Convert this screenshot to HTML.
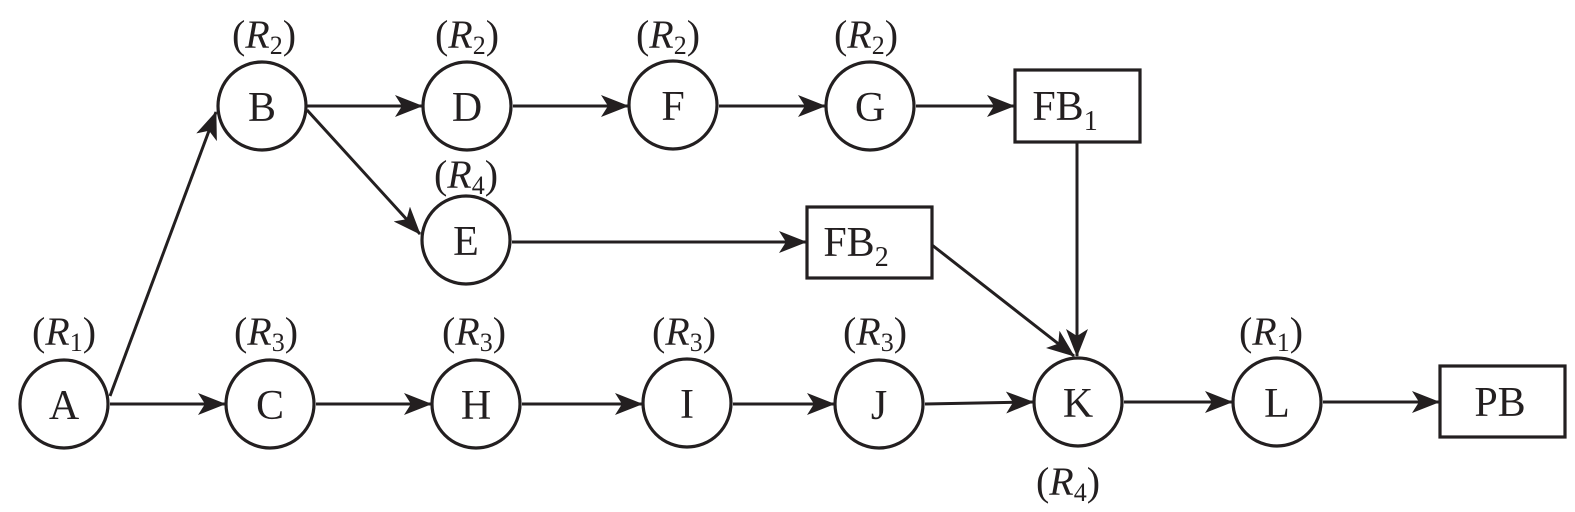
<!DOCTYPE html>
<html><head><meta charset="utf-8"><style>
html,body{margin:0;padding:0;background:#fff;}
svg{display:block;}
text{font-family:"Liberation Serif",serif;fill:#231f20;}
.n{font-size:42px;text-anchor:middle;dominant-baseline:central;}
.l{font-size:40px;text-anchor:middle;}
</style></head><body>
<svg width="1575" height="512" viewBox="0 0 1575 512" xmlns="http://www.w3.org/2000/svg">
<defs>
<marker id="ar" markerWidth="28" markerHeight="22" refX="27" refY="11" orient="auto" markerUnits="userSpaceOnUse">
<path d="M0,0 L28,11 L0,22 L7,11 Z" fill="#231f20"/>
</marker>
</defs>
<g stroke="#231f20" stroke-width="3.2" fill="none">
<circle cx="64" cy="404" r="44"/>
<circle cx="262" cy="106" r="44"/>
<circle cx="467" cy="106" r="44"/>
<circle cx="673" cy="105" r="44"/>
<circle cx="870" cy="106" r="44"/>
<circle cx="466" cy="240" r="44"/>
<circle cx="270" cy="404" r="44"/>
<circle cx="476" cy="404" r="44"/>
<circle cx="687" cy="403" r="44"/>
<circle cx="879" cy="404" r="44"/>
<circle cx="1078" cy="402" r="44"/>
<circle cx="1277" cy="402" r="44"/>
<rect x="1015" y="70" width="125" height="72"/>
<rect x="807" y="207" width="125" height="71"/>
<rect x="1440" y="366" width="125" height="71"/>
</g>
<g stroke="#231f20" stroke-width="3" fill="none" marker-end="url(#ar)">
<line x1="110" y1="396" x2="216" y2="112"/>
<line x1="110" y1="404" x2="225" y2="404"/>
<line x1="316" y1="404" x2="431" y2="404"/>
<line x1="522" y1="404" x2="642" y2="404"/>
<line x1="733" y1="404" x2="834" y2="404"/>
<line x1="925" y1="404" x2="1033" y2="402"/>
<line x1="1124" y1="402" x2="1232" y2="402"/>
<line x1="1323" y1="402" x2="1439" y2="402"/>
<line x1="307" y1="106" x2="422" y2="106"/>
<line x1="513" y1="106" x2="628" y2="106"/>
<line x1="719" y1="106" x2="825" y2="106"/>
<line x1="916" y1="106" x2="1014" y2="106"/>
<line x1="307" y1="110" x2="420" y2="234"/>
<line x1="512" y1="242" x2="806" y2="242"/>
<line x1="1077" y1="142" x2="1077" y2="356"/>
<line x1="932" y1="245" x2="1074" y2="356"/>
</g>
<text class="n" x="64" y="406">A</text>
<text class="n" x="262" y="108">B</text>
<text class="n" x="467" y="108">D</text>
<text class="n" x="673" y="107">F</text>
<text class="n" x="870" y="108">G</text>
<text class="n" x="466" y="242">E</text>
<text class="n" x="270" y="406">C</text>
<text class="n" x="476" y="406">H</text>
<text class="n" x="687" y="405">I</text>
<text class="n" x="879" y="406">J</text>
<text class="n" x="1078" y="404">K</text>
<text class="n" x="1277" y="404">L</text>
<text class="n" x="1500" y="403">PB</text>
<text class="n" x="1065" y="107">FB<tspan font-size="28" dy="14">1</tspan></text>
<text class="n" x="856" y="243">FB<tspan font-size="28" dy="14">2</tspan></text>
<g class="l">
<text x="264" y="48">(<tspan font-style="italic">R</tspan><tspan font-size="26" dy="6">2</tspan><tspan dy="-6">)</tspan></text>
<text x="467" y="48">(<tspan font-style="italic">R</tspan><tspan font-size="26" dy="6">2</tspan><tspan dy="-6">)</tspan></text>
<text x="668" y="48">(<tspan font-style="italic">R</tspan><tspan font-size="26" dy="6">2</tspan><tspan dy="-6">)</tspan></text>
<text x="866" y="48">(<tspan font-style="italic">R</tspan><tspan font-size="26" dy="6">2</tspan><tspan dy="-6">)</tspan></text>
<text x="466" y="188">(<tspan font-style="italic">R</tspan><tspan font-size="26" dy="6">4</tspan><tspan dy="-6">)</tspan></text>
<text x="64" y="345">(<tspan font-style="italic">R</tspan><tspan font-size="26" dy="6">1</tspan><tspan dy="-6">)</tspan></text>
<text x="266" y="345">(<tspan font-style="italic">R</tspan><tspan font-size="26" dy="6">3</tspan><tspan dy="-6">)</tspan></text>
<text x="474" y="345">(<tspan font-style="italic">R</tspan><tspan font-size="26" dy="6">3</tspan><tspan dy="-6">)</tspan></text>
<text x="684" y="345">(<tspan font-style="italic">R</tspan><tspan font-size="26" dy="6">3</tspan><tspan dy="-6">)</tspan></text>
<text x="875" y="345">(<tspan font-style="italic">R</tspan><tspan font-size="26" dy="6">3</tspan><tspan dy="-6">)</tspan></text>
<text x="1271" y="345">(<tspan font-style="italic">R</tspan><tspan font-size="26" dy="6">1</tspan><tspan dy="-6">)</tspan></text>
<text x="1068" y="495">(<tspan font-style="italic">R</tspan><tspan font-size="26" dy="6">4</tspan><tspan dy="-6">)</tspan></text>
</g>
</svg>
</body></html>
